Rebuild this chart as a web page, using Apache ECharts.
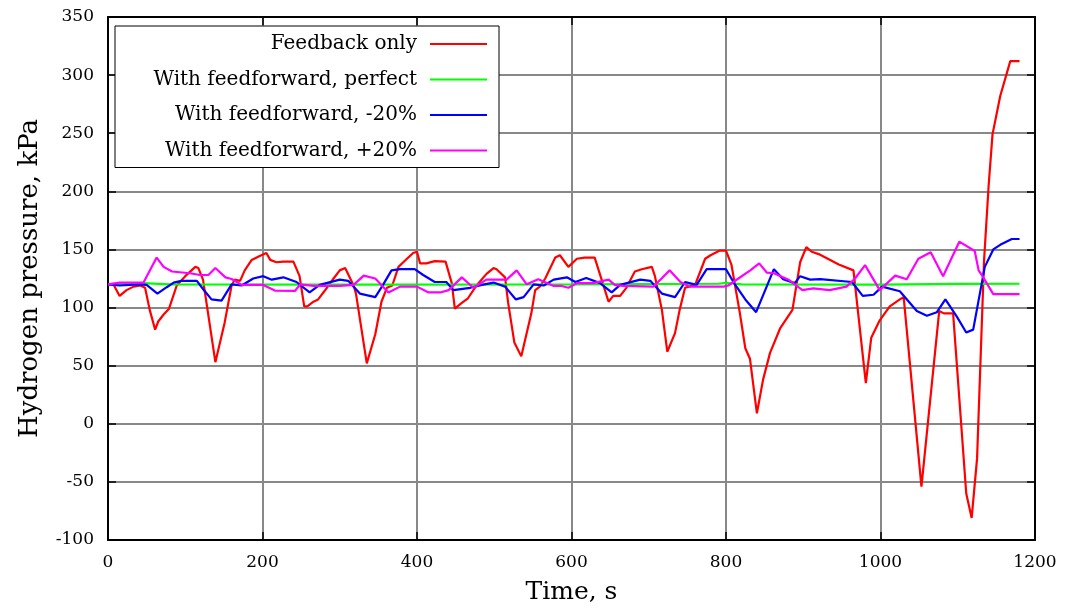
<!DOCTYPE html>
<html>
<head>
<meta charset="utf-8">
<script src="https://cdn.jsdelivr.net/npm/echarts@6/dist/echarts.min.js"></script>
<style>
  html, body { margin: 0; padding: 0; background: #fff; }
  #chart { width: 1065px; height: 610px; }
</style>
</head>
<body>
<div id="chart"></div>
<script>
// [time s, pressure kPa]
const feedbackOnly = [
  [0, 120], [7, 120], [15, 110], [24, 115], [33, 118], [42, 119], [48, 117], [54, 98], [61, 81], [65, 88],
  [72, 94], [79, 99], [89, 119], [100, 127], [113, 135], [117, 134], [123, 124], [139, 53], [151, 87], [160, 119],
  [164, 124], [171, 123], [177, 132], [186, 141], [195, 144], [205, 147], [210, 141], [218, 139], [227, 139.5], [240, 139.5],
  [248, 127], [254, 101], [258, 101], [266, 105], [272, 107], [280, 114], [292, 125], [300, 132], [307, 134], [318, 119],
  [321, 112], [335, 52], [346, 77], [354, 105], [361, 117], [368, 119], [376, 135], [387, 142], [395, 147], [400, 148],
  [404, 138], [412, 138], [423, 140], [437, 139.5], [445, 121], [449, 99], [458, 104], [466, 108], [477, 119], [490, 129],
  [499, 134], [503, 133], [514, 126], [518, 104], [526, 70], [535, 58], [548, 95], [553, 115], [559, 118], [566, 125],
  [579, 143], [585, 145], [596, 135], [607, 142], [617, 143], [630, 143], [639, 124], [648, 105], [654, 110], [663, 110],
  [671, 117], [682, 131], [691, 133], [704, 135], [708, 127], [717, 98], [724, 62], [734, 78], [740, 98], [747, 117],
  [760, 119.5], [773, 142], [780, 145], [792, 149], [800, 149], [807, 137], [818, 95], [825, 65], [831, 56], [840, 9],
  [848, 38], [857, 61], [870, 82], [886, 98], [896, 139], [904, 152], [911, 148], [920, 146], [946, 137], [965, 132],
  [981, 35], [988, 74], [999, 89], [1012, 101], [1025, 107], [1030, 109], [1053, -54], [1076, 97], [1082, 95], [1094, 95],
  [1111, -60], [1118, -81], [1125, -30], [1134, 140], [1140, 205], [1145, 249], [1155, 282], [1168, 312], [1180, 312]
]
const ffPerfect = [
  [0, 120], [45, 121], [80, 120], [300, 119.7], [600, 120], [790, 120.5], [800, 121.3], [820, 120],
  [1000, 119.8], [1100, 120.3], [1180, 120.5]
]
const ffMinus20 = [
  [0, 120], [15, 119], [41, 120], [50, 119.5], [64, 112], [76, 117.5], [85, 121.5], [95, 123], [115, 123], [123, 116],
  [134, 107], [147, 106], [160, 120], [173, 119], [188, 125], [201, 127], [212, 124], [227, 126], [244, 122], [261, 113],
  [274, 119.5], [300, 124], [311, 123], [326, 112], [346, 109], [356, 119.5], [367, 132], [378, 133], [397, 133], [408, 128],
  [423, 122], [438, 122], [447, 115], [469, 117], [484, 119.5], [499, 121.5], [514, 118], [528, 107], [538, 109], [551, 120],
  [564, 119], [577, 124], [594, 126], [605, 122], [619, 125.5], [637, 121], [652, 113], [663, 119.5], [689, 124], [702, 123],
  [717, 112], [734, 109], [747, 122], [762, 119.5], [775, 133], [800, 133], [810, 121.5], [825, 107], [839, 96], [862, 133],
  [874, 124.4], [889, 121], [896, 127], [909, 124], [922, 124.4], [963, 122], [977, 110], [991, 111], [1002, 118], [1025, 114],
  [1047, 97], [1060, 93], [1073, 96], [1084, 107], [1099, 92], [1111, 78.5], [1120, 81], [1135, 135], [1146, 150], [1155, 154],
  [1170, 159], [1180, 159]
]
const ffPlus20 = [
  [0, 120], [15, 121.5], [46, 121.5], [63, 143], [72, 135], [83, 131], [106, 129.5], [119, 128], [130, 128], [139, 134],
  [152, 126], [160, 124.6], [173, 119.5], [201, 119.5], [216, 114.6], [242, 114.3], [249, 120], [266, 118.6], [300, 118.6], [318, 119.5],
  [331, 127.5], [346, 125], [363, 113], [378, 118], [400, 118], [415, 113], [430, 113], [441, 115], [458, 126], [473, 117],
  [490, 124], [516, 124], [529, 132], [542, 120], [557, 124.4], [577, 118.6], [587, 118.6], [596, 117], [607, 121], [628, 121],
  [648, 124], [656, 119.5], [667, 118.6], [706, 118], [715, 124], [727, 132], [741, 122], [753, 118], [797, 118], [803, 119],
  [816, 125], [831, 131.8], [843, 138], [853, 130], [862, 129.5], [881, 124], [888, 120.4], [899, 115], [913, 116.5], [934, 115],
  [956, 118], [967, 125], [980, 136.5], [999, 115], [1019, 127.5], [1034, 124.4], [1049, 142], [1065, 147.6], [1081, 127], [1102, 156.7],
  [1122, 148.7], [1127, 132], [1132, 127], [1146, 111.5], [1180, 111.5]
]
const seriesNames = ['Feedback only', 'With feedforward, perfect', 'With feedforward, -20%', 'With feedforward, +20%']
const seriesColors = ['#ff0000', '#00ff00', '#0000ff', '#ff00ff']

const font = 'DejaVu Serif'
const chart = echarts.init(document.getElementById('chart'))

const makeLine = (name, data, color) => ({
  name: name,
  type: 'line',
  data: data,
  symbol: 'none',
  color: color,
  itemStyle: { color: color },
  lineStyle: { width: 2.2, color: color },
  animation: false
})

// top / right axes only draw the frame and inward ticks
const frameAxis = {
  axisLine: { show: true, onZero: false, lineStyle: { color: '#000', width: 2 } },
  axisTick: { show: true, inside: true, length: 8, lineStyle: { color: '#000', width: 1.5 } },
  axisLabel: { show: false },
  splitLine: { show: false }
}

const option = {
  animation: false,
  backgroundColor: '#fff',
  textStyle: { fontFamily: font },
  grid: { left: 108, right: 30, top: 17, bottom: 70, containLabel: false },
  legend: {
    orient: 'vertical',
    left: 115,
    top: 26,
    align: 'right',
    data: seriesNames,
    icon: 'rect',
    itemWidth: 57,
    itemHeight: 2,
    itemGap: 15.5,
    padding: [8, 12, 7, 5],
    backgroundColor: '#fff',
    borderColor: '#000',
    borderWidth: 1,
    borderRadius: 0,
    textStyle: {
      fontFamily: font,
      fontSize: 20,
      lineHeight: 20,
      color: '#000',
      width: 297,
      align: 'right',
      padding: [0, 8, 0, 0]
    }
  },
  xAxis: [
    {
      type: 'value',
      min: 0,
      max: 1200,
      interval: 200,
      name: 'Time, s',
      nameLocation: 'middle',
      nameGap: 40,
      nameTextStyle: { fontFamily: font, fontSize: 25, color: '#000' },
      axisLine: { show: true, onZero: false, lineStyle: { color: '#000', width: 2 } },
      axisTick: { show: true, inside: true, length: 8, lineStyle: { color: '#000', width: 1.5 } },
      axisLabel: { fontFamily: font, fontSize: 17, color: '#000', margin: 14, formatter: v => String(v) },
      splitLine: { show: true, lineStyle: { color: '#888', width: 2 } }
    },
    Object.assign({ type: 'value', position: 'top', min: 0, max: 1200, interval: 200 }, frameAxis)
  ],
  yAxis: [
    {
      type: 'value',
      min: -100,
      max: 350,
      interval: 50,
      name: 'Hydrogen pressure, kPa',
      nameLocation: 'middle',
      nameGap: 65,
      nameRotate: 90,
      nameTextStyle: { fontFamily: font, fontSize: 26, color: '#000' },
      axisLine: { show: true, onZero: false, lineStyle: { color: '#000', width: 2 } },
      axisTick: { show: true, inside: true, length: 8, lineStyle: { color: '#000', width: 1.5 } },
      axisLabel: { fontFamily: font, fontSize: 17, color: '#000', margin: 14 },
      splitLine: { show: true, lineStyle: { color: '#888', width: 2 } }
    },
    Object.assign({ type: 'value', position: 'right', min: -100, max: 350, interval: 50 }, frameAxis)
  ],
  series: [
    makeLine(seriesNames[0], feedbackOnly, seriesColors[0]),
    makeLine(seriesNames[1], ffPerfect, seriesColors[1]),
    makeLine(seriesNames[2], ffMinus20, seriesColors[2]),
    makeLine(seriesNames[3], ffPlus20, seriesColors[3])
  ]
}

chart.setOption(option)
</script>
</body>
</html>
